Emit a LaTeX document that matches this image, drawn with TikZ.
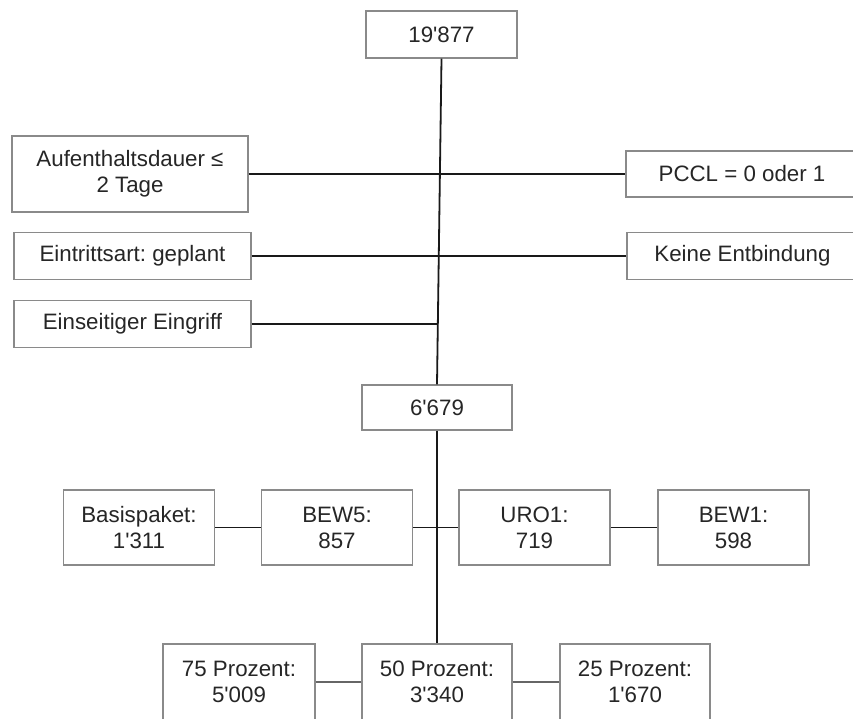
\documentclass[tikz,border=0pt]{standalone}
\usepackage{fontspec}
\setmainfont{Liberation Sans}
\frenchspacing
\definecolor{boxgray}{HTML}{8A8A8A}
\definecolor{txt}{HTML}{262626}
\newcommand\aps{\textquotesingle}
\begin{document}
\begin{tikzpicture}[x=1pt,y=-1pt,
  box/.style={draw=boxgray, line width=1.3pt, fill=white, inner sep=0pt, align=center,
    text=txt, font=\fontsize{22.3}{26}\selectfont},
  conn/.style={draw=black!90, line width=1.8pt},
  connlight/.style={draw=black!60, line width=2.2pt}]
\useasboundingbox (0,0) rectangle (853,718);
\fill[white] (0,0) rectangle (853,718);
% nodes
\node[box, minimum width=151pt, minimum height=47pt] (top) at (441.5,34.5) {19\aps877};
\node[box, minimum width=236pt, minimum height=76pt] (aufent) at (130,174) {Aufenthaltsdauer ≤\\2 Tage};
\node[box, minimum width=232pt, minimum height=46pt] (pccl) at (742,174) {PCCL = 0 oder 1};
\node[box, minimum width=237pt, minimum height=47pt] (eintritt) at (132.5,256) {Eintrittsart: geplant};
\node[box, minimum width=231pt, minimum height=47pt] (keine) at (742.5,256) {Keine Entbindung};
\node[box, minimum width=237pt, minimum height=47pt] (einseitig) at (132.5,324) {Einseitiger Eingriff};
\node[box, minimum width=150pt, minimum height=45pt] (mid) at (437,407.5) {6\aps679};
\node[box, minimum width=151pt, minimum height=75pt] (basis) at (139,527.5) {Basispaket:\\1\aps311};
\node[box, minimum width=151pt, minimum height=75pt] (bew5) at (337,527.5) {BEW5:\\857};
\node[box, minimum width=151pt, minimum height=75pt] (uro1) at (534.5,527.5) {URO1:\\719};
\node[box, minimum width=151pt, minimum height=75pt] (bew1) at (733.5,527.5) {BEW1:\\598};
\node[box, minimum width=152pt, minimum height=76pt] (p75) at (239,682) {75 Prozent:\\5\aps009};
\node[box, minimum width=150pt, minimum height=76pt] (p50) at (437,682) {50 Prozent:\\3\aps340};
\node[box, minimum width=150pt, minimum height=76pt] (p25) at (635,682) {25 Prozent:\\1\aps670};
% connectors
\draw[conn] (top.south) -- (mid.north);
\draw[conn] (aufent.east) -- (pccl.west);
\draw[conn] (eintritt.east) -- (keine.west);
\draw[conn] (einseitig.east) -- (einseitig.east -| mid.north);
\draw[conn] (mid.south) -- (p50.north);
\draw[conn] (basis.east) -- (bew5.west);
\draw[conn] (bew5.east) -- (uro1.west);
\draw[conn] (uro1.east) -- (bew1.west);
\draw[connlight] (p75.east) -- (p50.west);
\draw[connlight] (p50.east) -- (p25.west);
\end{tikzpicture}
\end{document}
